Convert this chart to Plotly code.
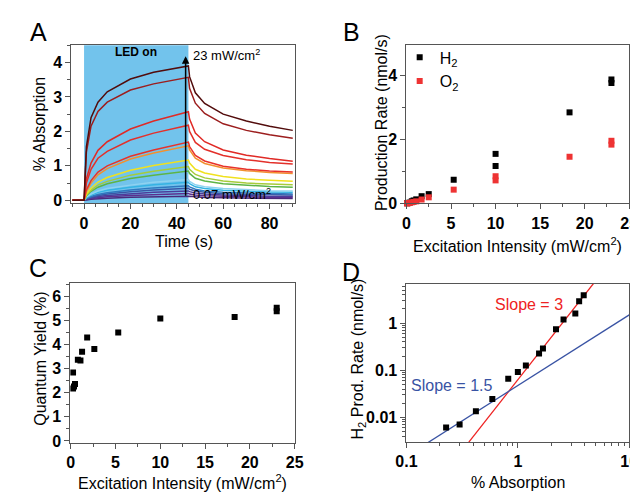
import math
import plotly.graph_objects as go

FONT = "Liberation Sans, Arial, sans-serif"
AXC = "#555555"

# ---------------- Panel A data: % absorption vs time ----------------
time_s = [-5, 0, 1, 3, 6, 10, 20, 30, 45, 45.5, 48, 52, 60, 70, 80, 90]
curve_01 = [0, 0, 0.01, 0.03, 0.05, 0.06, 0.09, 0.11, 0.13, 0.12, 0.10, 0.08, 0.07, 0.06, 0.06, 0.05]
curve_02 = [0, 0, 0.02, 0.05, 0.08, 0.10, 0.14, 0.17, 0.20, 0.18, 0.15, 0.13, 0.11, 0.10, 0.09, 0.09]
curve_03 = [0, 0, 0.03, 0.07, 0.11, 0.14, 0.19, 0.23, 0.27, 0.25, 0.21, 0.18, 0.15, 0.13, 0.12, 0.12]
curve_04 = [0, 0, 0.04, 0.09, 0.14, 0.18, 0.25, 0.30, 0.35, 0.32, 0.27, 0.23, 0.19, 0.17, 0.16, 0.15]
curve_05 = [0, 0, 0.05, 0.11, 0.17, 0.22, 0.30, 0.36, 0.42, 0.39, 0.32, 0.27, 0.23, 0.21, 0.19, 0.18]
curve_06 = [0, 0, 0.07, 0.15, 0.23, 0.29, 0.38, 0.45, 0.52, 0.48, 0.39, 0.34, 0.29, 0.26, 0.24, 0.23]
curve_07 = [0, 0, 0.09, 0.18, 0.27, 0.34, 0.44, 0.52, 0.60, 0.55, 0.45, 0.39, 0.34, 0.30, 0.28, 0.27]
curve_08 = [0, 0, 0.13, 0.26, 0.38, 0.48, 0.63, 0.73, 0.85, 0.78, 0.64, 0.56, 0.48, 0.43, 0.40, 0.38]
curve_09 = [0, 0, 0.15, 0.29, 0.44, 0.55, 0.73, 0.84, 0.98, 0.90, 0.75, 0.65, 0.56, 0.50, 0.47, 0.45]
curve_10 = [0, 0, 0.18, 0.35, 0.53, 0.66, 0.87, 1.01, 1.17, 1.08, 0.90, 0.79, 0.69, 0.62, 0.58, 0.55]
curve_11 = [0, 0, 0.25, 0.50, 0.74, 0.92, 1.20, 1.37, 1.58, 1.46, 1.22, 1.07, 0.94, 0.86, 0.81, 0.78]
curve_12 = [0, 0, 0.30, 0.57, 0.82, 1.00, 1.28, 1.46, 1.69, 1.56, 1.30, 1.14, 0.99, 0.90, 0.85, 0.82]
curve_13 = [0, 0, 0.50, 0.90, 1.22, 1.42, 1.75, 1.95, 2.18, 2.00, 1.68, 1.48, 1.30, 1.18, 1.10, 1.05]
curve_14 = [0, 0, 0.62, 1.08, 1.45, 1.70, 2.07, 2.30, 2.57, 2.36, 1.95, 1.70, 1.46, 1.31, 1.21, 1.13]
curve_15 = [0, 0, 1.40, 2.15, 2.58, 2.85, 3.20, 3.38, 3.57, 3.25, 2.82, 2.52, 2.22, 2.03, 1.90, 1.80]
curve_16 = [0, 0, 1.55, 2.40, 2.85, 3.15, 3.52, 3.72, 3.90, 3.59, 3.12, 2.81, 2.50, 2.30, 2.15, 2.03]
curve_colors = ["#4a2a7c", "#5c2f8e", "#4b3c9a", "#3a56a6", "#2f78bf", "#35b3e3",
                "#8fd3f0", "#5db446", "#a6cc3a", "#f0e11e", "#f2902f", "#e8322a",
                "#e3302a", "#e02a26", "#9c1e1e", "#520c0c"]
curves_a = [curve_01, curve_02, curve_03, curve_04, curve_05, curve_06, curve_07, curve_08,
            curve_09, curve_10, curve_11, curve_12, curve_13, curve_14, curve_15, curve_16]

# ---------------- Panel B data ----------------
intensity = [0.07, 0.1, 0.2, 0.36, 0.6, 0.8, 1.1, 1.7, 2.5, 5.3, 10.0, 10.0, 18.3, 23.0, 23.0]
h2_rate = [0.006, 0.007, 0.0135, 0.0245, 0.066, 0.092, 0.126, 0.225, 0.29, 0.74, 1.55, 1.17, 2.85, 3.88, 3.77]
o2_rate = [0.003, 0.004, 0.007, 0.012, 0.033, 0.046, 0.063, 0.12, 0.19, 0.43, 0.85, 0.72, 1.46, 1.96, 1.84]

# ---------------- Panel C data ----------------
qy_intensity = [0.25, 0.25, 0.36, 0.47, 0.79, 1.08, 1.26, 1.83, 2.63, 5.3, 10.0, 18.3, 23.0, 23.0]
quantum_yield = [2.84, 2.17, 2.26, 2.36, 3.37, 3.34, 3.70, 4.29, 3.81, 4.50, 5.08, 5.14, 5.38, 5.52]

# ---------------- Panel D data ----------------
abs_pct = [0.227, 0.30, 0.42, 0.59, 0.82, 1.0, 1.18, 1.55, 1.68, 2.2, 2.57, 3.28, 3.55, 3.9]
h2_rate_d = [0.0061, 0.0071, 0.0135, 0.0245, 0.066, 0.092, 0.126, 0.225, 0.29, 0.74, 1.19, 1.59, 2.88, 3.9]
fit3_x = [0.363, 5.0]
fit3_y = [0.0030, 7.9]
fit15_x = [0.155, 10.0]
fit15_y = [0.0029, 1.49]

# tick labels
ticks_a_x = [0, 20, 40, 60, 80]
ticks_a_y = [0, 1, 2, 3, 4]
ticks_b_x = [0, 5, 10, 15, 20, 25]
ticks_b_y = [0, 2, 4]
ticks_c_x = [0, 5, 10, 15, 20, 25]
ticks_c_y = [0, 1, 2, 3, 4, 5, 6]
ticks_d_x = [0.1, 1, 10]
ticks_d_x_text = ["0.1", "1", "10"]
ticks_d_y = [0.01, 0.1, 1]
ticks_d_y_text = ["0.01", "0.1", "1"]

fig = go.Figure()

for ys, col in zip(curves_a, curve_colors):
    fig.add_trace(go.Scatter(x=time_s, y=ys, mode="lines", line=dict(color=col, width=1.5),
                             xaxis="x", yaxis="y", showlegend=False, hoverinfo="skip"))

fig.add_trace(go.Scatter(x=intensity, y=h2_rate, mode="markers", name="H<sub>2</sub>",
                         marker=dict(symbol="square", size=6, color="black"),
                         xaxis="x2", yaxis="y2", showlegend=True, cliponaxis=False))
fig.add_trace(go.Scatter(x=intensity, y=o2_rate, mode="markers", name="O<sub>2</sub>",
                         marker=dict(symbol="square", size=6, color="#ee3333"),
                         xaxis="x2", yaxis="y2", showlegend=True, cliponaxis=False))

fig.add_trace(go.Scatter(x=qy_intensity, y=quantum_yield, mode="markers",
                         marker=dict(symbol="square", size=6, color="black"),
                         xaxis="x3", yaxis="y3", showlegend=False))

fig.add_trace(go.Scatter(x=fit3_x, y=fit3_y, mode="lines", line=dict(color="#ee2222", width=1.3),
                         xaxis="x4", yaxis="y4", showlegend=False))
fig.add_trace(go.Scatter(x=fit15_x, y=fit15_y, mode="lines", line=dict(color="#3953a4", width=1.3),
                         xaxis="x4", yaxis="y4", showlegend=False))
fig.add_trace(go.Scatter(x=abs_pct, y=h2_rate_d, mode="markers",
                         marker=dict(symbol="square", size=6, color="black"),
                         xaxis="x4", yaxis="y4", showlegend=False))


def bold(vals, texts=None):
    texts = texts if texts is not None else [str(v) for v in vals]
    return dict(tickvals=vals, ticktext=["<b>%s</b>" % t for t in texts])


def ax(**kw):
    d = dict(showline=True, linecolor=AXC, linewidth=1, mirror=True, ticks="outside",
             ticklen=5, tickwidth=1, tickcolor=AXC, showgrid=False, zeroline=False,
             tickfont=dict(family=FONT, size=16, color="black"))
    d.update(kw)
    return d


W, H = 638, 494
def px(x0, x1):
    return [x0 / W, x1 / W]
def py(y0, y1):
    return [1 - y1 / H, 1 - y0 / H]

minor_style = dict(ticks="outside", ticklen=3, tickcolor=AXC)

layout = dict(
    width=W, height=H, margin=dict(l=0, r=0, t=0, b=0), autosize=False,
    paper_bgcolor="white", plot_bgcolor="white",
    font=dict(family=FONT, size=16, color="black"),
    xaxis=ax(domain=px(54, 285), anchor="y", range=[-5.5, 91], **bold(ticks_a_x),
             minor=dict(dtick=5, **minor_style)),
    yaxis=ax(domain=py(38, 199), anchor="x", range=[-0.09, 4.5], **bold(ticks_a_y),
             minor=dict(dtick=0.5, **minor_style)),
    xaxis2=ax(domain=px(400, 630), anchor="y2", range=[0, 25], **bold(ticks_b_x),
              minor=dict(dtick=2.5, **minor_style)),
    yaxis2=ax(domain=py(38, 199), anchor="x2", range=[0, 4.95], **bold(ticks_b_y),
              minor=dict(dtick=1, **minor_style)),
    xaxis3=ax(domain=px(53, 285), anchor="y3", range=[-0.05, 25.05], **bold(ticks_c_x),
              minor=dict(dtick=2.5, **minor_style)),
    yaxis3=ax(domain=py(280, 443), anchor="x3", range=[-0.08, 6.55], **bold(ticks_c_y),
              minor=dict(dtick=0.5, **minor_style)),
    xaxis4=ax(domain=px(400, 630), anchor="y4", type="log", range=[-1, 1],
              **bold(ticks_d_x, ticks_d_x_text), minor=dict(dtick="D1", **minor_style)),
    yaxis4=ax(domain=py(281, 442), anchor="x4", type="log", range=[-2.52, 0.83],
              **bold(ticks_d_y, ticks_d_y_text), minor=dict(dtick="D1", **minor_style)),
    legend=dict(x=393 / W, y=1 - 33 / H, xanchor="left", yanchor="top",
                bgcolor="rgba(0,0,0,0)", font=dict(family=FONT, size=16), tracegroupgap=0),
    shapes=[dict(type="rect", xref="x", yref="y domain", x0=0, x1=45, y0=0, y1=1,
                 fillcolor="#72c3ec", line=dict(width=0), layer="below")],
)
fig.update_layout(**layout)

ann = []
def text(x, y, s, size=16, angle=0, color="black", xanchor="center"):
    ann.append(dict(x=x / W, y=1 - y / H, xref="paper", yref="paper", text=s, showarrow=False,
                    textangle=angle, xanchor=xanchor, yanchor="middle",
                    font=dict(family=FONT, size=size, color=color)))

text(20, 24, "A", size=25)
text(343, 24, "B", size=25)
text(20, 265, "C", size=25)
text(343, 269, "D", size=25)

text(22, 118, "% Absorption", angle=-90)
text(170, 238, "Time (s)")
text(375, 117, "Production Rate (nmol/s)", angle=-90)
text(515, 241, "Excitation Intensity (mW/cm<sup>2</sup>)")
text(22, 357, "Quantum Yield (%)", angle=-90)
text(169, 483, "Excitation Intensity (mW/cm<sup>2</sup>)")
text(350, 358, "H<sub>2</sub> Prod. Rate (nmol/s)", angle=-90)
text(515, 483, "% Absorption")

ann.append(dict(x=22.4, y=4.3, xref="x", yref="y", text="<b>LED on</b>", showarrow=False,
                font=dict(family=FONT, size=12, color="black")))
ann.append(dict(x=46.3, y=4.23, xref="x", yref="y", text="23 mW/cm<sup>2</sup>", showarrow=False,
                xanchor="left", font=dict(family=FONT, size=13, color="black")))
ann.append(dict(x=46.3, y=0.17, xref="x", yref="y", text="0.07 mW/cm<sup>2</sup>", showarrow=False,
                xanchor="left", font=dict(family=FONT, size=13, color="black")))
ann.append(dict(x=43.8, y=4.18, ax=43.8, ay=0.09, xref="x", yref="y", axref="x", ayref="y",
                text="", showarrow=True, arrowhead=2, arrowsize=1, arrowwidth=1.5, arrowcolor="black"))

# log axes: annotation positions given as log10 of the data value
ann.append(dict(x=math.log10(1.25), y=math.log10(2.5), xref="x4", yref="y4", text="Slope = 3",
                showarrow=False, font=dict(family=FONT, size=16, color="#ee2222")))
ann.append(dict(x=math.log10(0.255), y=math.log10(0.0464), xref="x4", yref="y4", text="Slope = 1.5",
                showarrow=False, font=dict(family=FONT, size=16, color="#3953a4")))

fig.update_layout(annotations=ann)
fig.write_html("out.html")
